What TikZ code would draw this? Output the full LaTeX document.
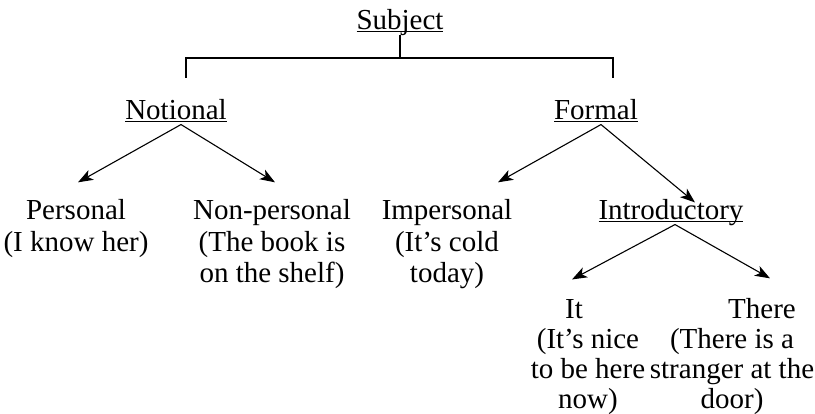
\documentclass[tikz,border=0pt]{standalone}
\usepackage{fontspec}
\setmainfont{Liberation Serif}
\usetikzlibrary{calc, positioning, arrows.meta}
\newcommand{\uword}[1]{\underline{\smash{#1}}}

\begin{document}
\begin{tikzpicture}[x=1pt,y=-1pt,line width=1.1pt,
  font=\fontsize{29}{30.5}\selectfont]
  \tikzset{word node/.style={anchor=base,inner sep=2pt},
    ex node/.style={anchor=base,inner sep=2pt,align=center},
    branch/.style={-{Stealth[length=15pt,width=11pt,inset=4pt]}}}
  \useasboundingbox (0,0) rectangle (815,414);
  \node[word node](S) at (400,30) {\uword{Subject}};
  \node[word node](N) at (176,120) {\uword{Notional}};
  \node[word node](F) at (596,120) {\uword{Formal}};
  \node[word node](P) at (76,220) {Personal};
  \node[word node](NP) at (272,220) {Non-personal};
  \node[word node](I) at (447,220) {Impersonal};
  \node[word node](In) at (671,220) {\uword{Introductory}};
  \node[word node](It) at (574,319) {It};
  \node[word node](Th) at (762,319) {There};
  \node[ex node](Pex) at (76,252) {(I know her)};
  \node[ex node](NPex) at (272,282.5) {(The book is\\on the shelf)};
  \node[ex node](Iex) at (447,282.5) {(It’s cold\\today)};
  \node[ex node](Itex) at (588,409) {(It’s nice\\to be here\\now)};
  \node[ex node](Thex) at (732,409) {(There is a\\stranger at the\\door)};
  \coordinate(top) at (400,58);
  \coordinate(l) at (186,78);
  \coordinate(r) at (613,78);
  \draw (S.south) -- (top);
  \draw (l) |- (top) -| (r);
  \draw[branch] ($(N.south)+(5,0)$) -- ($(P.north)+(2,-15)$);
  \draw[branch] ($(N.south)+(5,0)$) -- ($(NP.north)+(3,-15)$);
  \draw[branch] ($(F.south)+(5,0)$) -- ($(I.north)+(51,-15)$);
  \draw[branch] ($(F.south)+(5,0)$) -- ($(In.north)+(24,-15)$);
  \draw[branch] ($(In.south)+(4,0)$) -- ($(It.north)+(-2,-18)$);
  \draw[branch] ($(In.south)+(4,0)$) -- ($(Th.north)+(8,-18)$);
\end{tikzpicture}
\end{document}
